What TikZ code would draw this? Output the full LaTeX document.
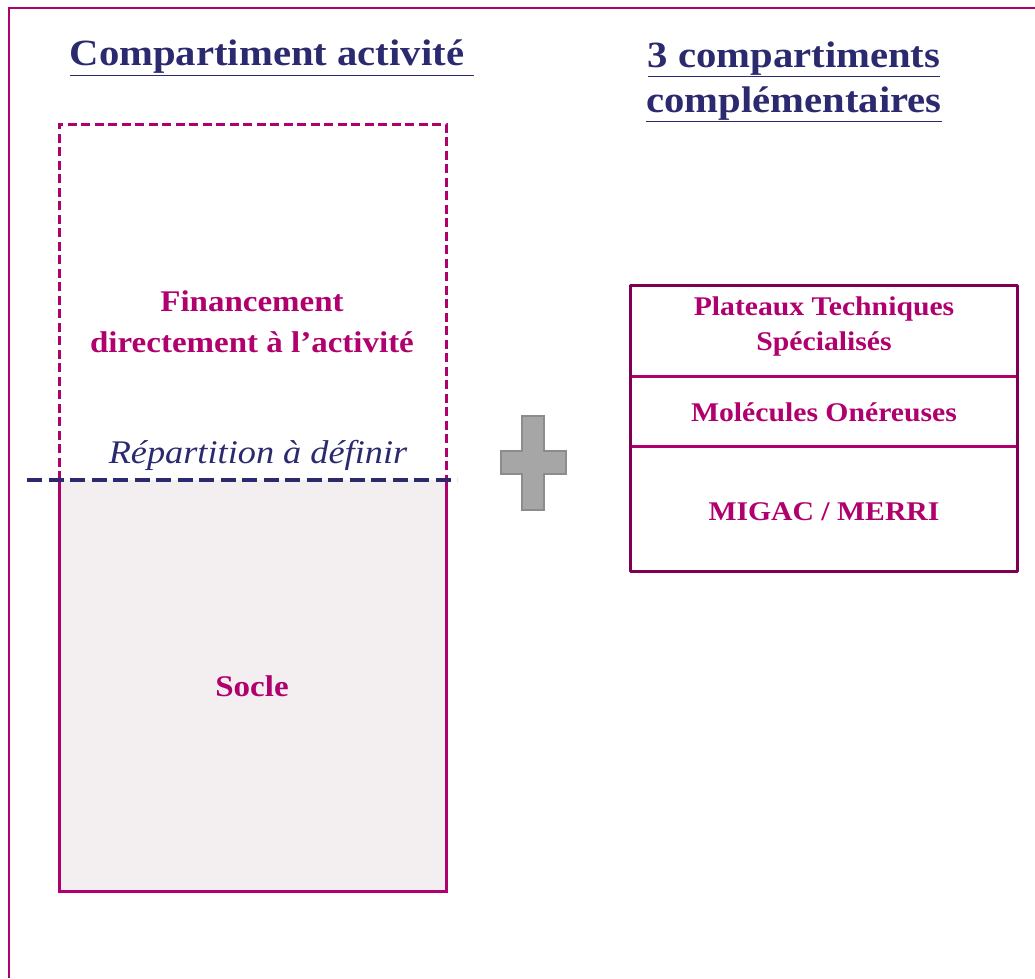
\documentclass[tikz,border=0pt]{standalone}
\usepackage{fontspec}
\setmainfont[FakeStretch=1.1]{Liberation Serif}
\definecolor{prune}{HTML}{B0006E}
\definecolor{prunedark}{HTML}{7E0052}
\definecolor{marine}{HTML}{2B2A6E}
\definecolor{fondsocle}{HTML}{F3EFF1}
\definecolor{croix}{HTML}{A6A6A6}
\definecolor{croixbord}{HTML}{8C8C8C}
\tikzset{
  titre/.style={text=marine, font=\fontsize{37}{45}\selectfont\bfseries, align=center},
  etiq/.style={text=prune, font=\fontsize{30}{41}\selectfont\bfseries, align=center},
  petit/.style={text=prune, font=\fontsize{27}{35}\selectfont\bfseries, align=center},
}
\begin{document}
\begin{tikzpicture}[x=1pt,y=-1pt]
\useasboundingbox (0,0) rectangle (1035,978);

% cadre
\draw[prune, line width=1.5] (9,978) -- (9,8) -- (1035,8);

% titres
\node[titre] (tact) at (272,58) {\underline{Compartiment activité\ }};
\node[titre] (tcomp) at (794,82) {\underline{3 compartiments}\\\underline{complémentaires}};

% compartiment activite
\fill[fondsocle] (59,480) rectangle (446,891);
\draw[prune, line width=3] (59,480) -- (59,891) -- (446,891) -- (446,480);
\draw[prune, line width=3, dash pattern=on 9pt off 4.5pt] (59,480) -- (59,124) -- (446,124) -- (446,480);
\node[etiq] (fin) at (252,322) {Financement\\directement à l’activité};
\node[etiq] (socle) at (252,686) {Socle};

\node[text=marine, font=\fontsize{33}{40}\selectfont\itshape] (rep) at (258,455) {Répartition à définir};
\draw[marine, line width=4, dash pattern=on 15pt off 6.5pt] (27,480) -- (457,480);

% plus
\draw[croixbord, fill=croix, line width=1.5]
  (522,416) -- (544,416) -- (544,451) -- (566,451) -- (566,474) -- (544,474)
  -- (544,510) -- (522,510) -- (522,474) -- (501,474) -- (501,451) -- (522,451) -- cycle;

% 3 compartiments
\begin{scope}[line width=3]
\draw[prune] (630,376) -- (1017,376);
\draw[prune] (630,446) -- (1017,446);
\draw[prunedark, line join=round] (630,285) rectangle (1017,571);
\end{scope}
\node[petit] (ptech) at (824,326) {Plateaux Techniques\\Spécialisés};
\node[petit] (molec) at (824,412) {Molécules Onéreuses};
\node[petit] (migac) at (824,512) {MIGAC / MERRI};

\end{tikzpicture}
\end{document}
